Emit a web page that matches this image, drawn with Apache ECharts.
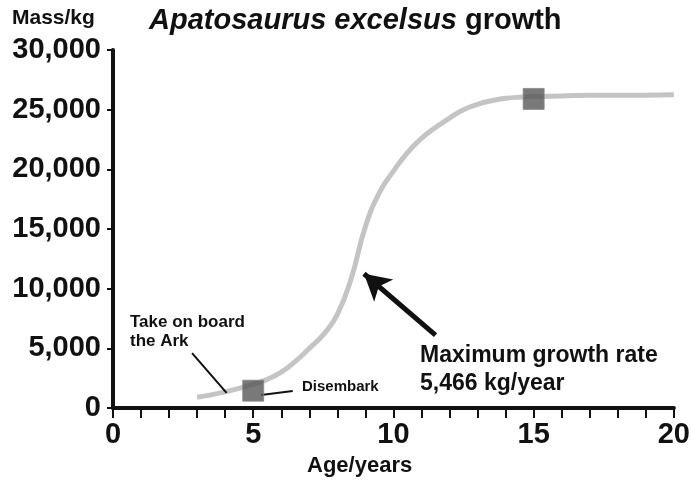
<!DOCTYPE html>
<html><head><meta charset="utf-8">
<script src="https://cdn.jsdelivr.net/npm/echarts@6/dist/echarts.min.js"></script>
<style>html,body{margin:0;padding:0;background:#fff}#c{width:693px;height:480px}</style>
</head><body><div id="c"></div>
<script>
var ages = [3, 3.5, 4, 4.5, 5, 5.5, 6, 6.5, 7, 7.5, 8, 8.5, 9, 9.5, 10, 10.5, 11, 11.5, 12, 12.5, 13, 13.5, 14, 14.5, 15, 16, 17, 18, 20];
var mass = [900, 1100, 1350, 1650, 2000, 2400, 3000, 3900, 5000, 6150, 7850, 10900, 15200, 18050, 19850, 21400, 22600, 23500, 24300, 25000, 25450, 25750, 25950, 26050, 26100, 26150, 26200, 26200, 26250];
var markerAges = [5, 15];
var markerMass = [1450, 25900];
var yTicks = ['0', '5,000', '10,000', '15,000', '20,000', '25,000', '30,000'];
var xTicks = ['0', '5', '10', '15', '20'];

var FONT = '"Liberation Sans", Arial, Helvetica, sans-serif';
var chart = echarts.init(document.getElementById('c'), null, {renderer: 'canvas'});
chart.setOption({
  animation: false,
  backgroundColor: '#fff',
  grid: {left: 113, right: 12, top: 50, bottom: 72, containLabel: false},
  xAxis: {
    type: 'value', min: 0, max: 20, interval: 5,
    axisLine: {lineStyle: {color: '#111', width: 4}},
    axisTick: {length: 10, lineStyle: {color: '#111', width: 2}},
    minorTick: {show: true, splitNumber: 5, length: 10, lineStyle: {color: '#111', width: 2}},
    splitLine: {show: false},
    axisLabel: {margin: 12, color: '#111', fontFamily: FONT, fontWeight: 'bold', fontSize: 29,
      formatter: function (v) { return xTicks[Math.round(v / 5)]; }}
  },
  yAxis: {
    type: 'value', min: 0, max: 30000, interval: 5000,
    axisLine: {lineStyle: {color: '#111', width: 4}},
    axisTick: {length: 6, lineStyle: {color: '#111', width: 2}},
    splitLine: {show: false},
    axisLabel: {margin: 12, color: '#111', fontFamily: FONT, fontWeight: 'bold', fontSize: 29,
      formatter: function (v) { return yTicks[Math.round(v / 5000)]; }}
  },
  graphic: [
    {type: 'text', left: 12, top: 8, style: {text: 'Mass/kg', font: 'bold 21px ' + FONT, fill: '#111'}},
    {type: 'text', left: 149, top: 6, style: {
      text: '{i|Apatosaurus excelsus }{n|growth}',
      rich: {i: {font: 'italic bold 29px ' + FONT, fill: '#111'}, n: {font: 'bold 29px ' + FONT, fill: '#111'}},
      fill: '#111'}},
    {type: 'text', left: 130, top: 313, style: {text: 'Take on board\nthe Ark', font: 'bold 17px ' + FONT, fill: '#111', lineHeight: 19}},
    {type: 'text', left: 302, top: 379, style: {text: 'Disembark', font: 'bold 15px ' + FONT, fill: '#111'}},
    {type: 'text', left: 420, top: 342, style: {text: 'Maximum growth rate\n5,466 kg/year', font: 'bold 23px ' + FONT, fill: '#111', lineHeight: 28}},
    {type: 'text', left: 307, top: 455, style: {text: 'Age/years', font: 'bold 22px ' + FONT, fill: '#111'}}
  ],
  series: [
    {
      type: 'line', smooth: 0.5, showSymbol: false, silent: true,
      data: ages.map(function (a, i) { return [a, mass[i]]; }),
      lineStyle: {color: '#c4c4c4', width: 5},
      z: 2,
      markLine: {
        silent: true, animation: false,
        label: {show: false},
        data: [
          [{coord: [11.5, 6110], symbol: 'none', lineStyle: {color: '#111', width: 5, type: 'solid'}},
           {coord: [8.95, 11250], symbol: 'arrow', symbolSize: [22, 26]}],
          [{coord: [2.82, 4600], symbol: 'none', lineStyle: {color: '#111', width: 2, type: 'solid'}},
           {coord: [4.05, 1260], symbol: 'none'}],
          [{coord: [5.28, 1090], symbol: 'none', lineStyle: {color: '#111', width: 2, type: 'solid'}},
           {coord: [6.41, 1420], symbol: 'none'}]
        ]
      }
    },
    {
      type: 'scatter', symbol: 'rect', symbolSize: 21, silent: true, z: 5,
      data: markerAges.map(function (a, i) { return [a, markerMass[i]]; }),
      itemStyle: {color: '#585858', borderColor: '#8a8a8a', borderWidth: 1}
    }
  ]
});
</script></body></html>
